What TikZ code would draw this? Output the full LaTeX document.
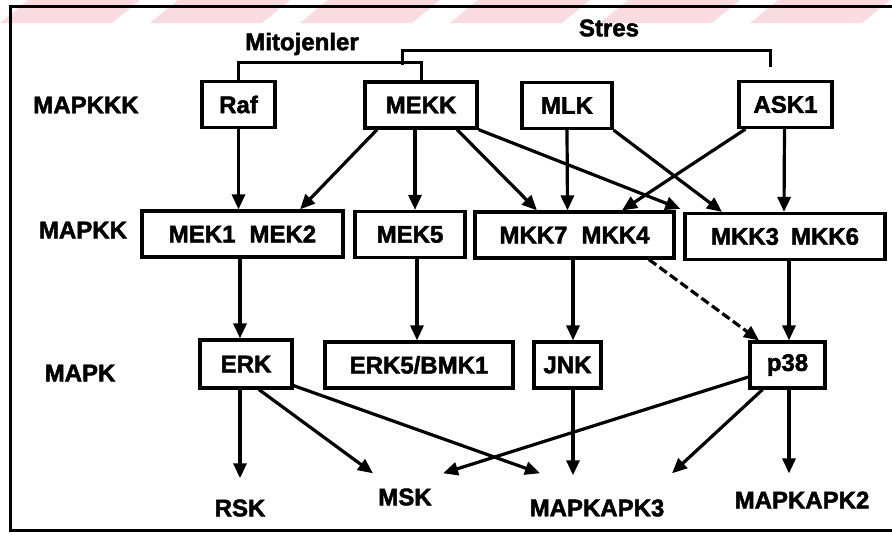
\documentclass[tikz,border=0pt]{standalone}
\usepackage{fontspec}
\setmainfont{Liberation Sans}
\newfontfamily\hvy{Liberation Sans}[UprightFont=*-Bold, UprightFeatures={FakeBold=2}]
\usetikzlibrary{arrows.meta}
\definecolor{wm}{HTML}{FADCE0}
\begin{document}
\begin{tikzpicture}[x=1pt,y=-1pt,
  box/.style={draw, line width=3.2pt, inner sep=0pt, font=\fontsize{24}{26}\hvy, minimum height=46pt},
  lbl/.style={inner sep=0pt, font=\fontsize{24}{26}\hvy},
  arr/.style={line width=3.2pt, -{Triangle[length=15pt,width=13pt]}},
  brk/.style={line width=3pt},
  frm/.style={line width=3pt}]
\useasboundingbox (0,0) rectangle (892,536);
\fill[white] (0,0) rectangle (892,536);
% watermark band
\foreach \i in {-1,...,6}{
  \fill[wm] (\i*150,23) -- ++(112,0) -- ++(28,-23) -- ++(-112,0) -- cycle;
}
% frame
\draw[frm] (892,6) -- (10,6) -- (10,530) -- (892,530);

% level labels
\node[lbl] (lKKK) at (86,105) {MAPKKK};
\node[lbl] (lKK) at (83,230) {MAPKK};
\node[lbl] (lK) at (80,373) {MAPK};
\node[lbl] (mito) at (302,44) {Mitojenler};
\node[lbl] (stres) at (609,28) {Stres};

% MAPKKK
\node[box, minimum width=73pt] (Raf) at (238.5,104.5) {Raf};
\node[box, minimum width=112pt] (MEKK) at (421,105) {MEKK};
\node[box, minimum width=90pt] (MLK) at (567,105.5) {MLK};
\node[box, minimum width=93pt] (ASK1) at (785.5,104.5) {ASK1};

% MAPKK
\node[box, minimum width=201pt] (MEK12) at (242.5,234) {MEK1\hspace{14pt}MEK2\hspace{32pt}};
\node[box, minimum width=110pt] (MEK5) at (410,234.5) {MEK5\hspace{18pt}};
\node[box, minimum width=199pt] (MKK74) at (574.5,235) {MKK7\hspace{14pt}MKK4\hspace{23pt}};
\node[box, minimum width=200pt] (MKK36) at (785,236.5) {MKK3\hspace{12pt}MKK6\hspace{9pt}};

% MAPK
\node[box, minimum width=92pt, minimum height=48pt] (ERK) at (246,364) {ERK};
\node[box, minimum width=188pt] (ERK5) at (419,365) {ERK5/BMK1};
\node[box, minimum width=67pt] (JNK) at (567.5,365) {JNK};
\node[box, minimum width=75pt] (p38) at (787.5,365) {p38};

% substrates
\node[lbl] (RSK) at (240,508) {RSK};
\node[lbl] (MSK) at (405,497) {MSK};
\node[lbl] (MK3) at (597,508) {MAPKAPK3};
\node[lbl] (MK2) at (802,500) {MAPKAPK2};

% brackets
\draw[brk] (Raf.north) -- ++(0,-17) -| (MEKK.north);
\coordinate (sL) at (402,65);
\coordinate (sR) at (770,67);
\draw[brk] (sL) -- ++(0,-15) -| (sR);

% MAPKKK -> MAPKK
\draw[arr] (Raf.south) -- (Raf.south |- MEK12.north);
\draw[arr] ([xshift=-44pt]MEKK.south) -- ([xshift=57.5pt]MEK12.north);
\draw[arr] ([xshift=-6pt]MEKK.south) -- ([xshift=5pt]MEK5.north);
\draw[arr] ([xshift=36pt]MEKK.south) -- ([xshift=-37.5pt]MKK74.north);
\draw[arr] (MEKK.south east) -- ([xshift=-3pt,yshift=3pt]MKK36.north west);
\draw[arr] (MLK.south) -- ([xshift=-7pt]MKK74.north);
\draw[arr] (MLK.south east) -- ([xshift=-63pt]MKK36.north);
\draw[arr] ([xshift=-40pt]ASK1.south) -- ([xshift=47.5pt]MKK74.north);
\draw[arr] ([xshift=-1pt]ASK1.south) -- ([xshift=-1pt]MKK36.north);

% MAPKK -> MAPK
\draw[arr] ([xshift=-2.5pt]MEK12.south) -- ([xshift=-6pt]ERK.north);
\draw[arr] ([xshift=7pt]MEK5.south) -- ([xshift=-2pt]ERK5.north);
\draw[arr] ([xshift=-1.5pt]MKK74.south) -- ([xshift=5.5pt]JNK.north);
\draw[arr, dash pattern=on 9pt off 4pt] ([xshift=74.5pt]MKK74.south) -- ([xshift=-28.5pt]p38.north);
\draw[arr] ([xshift=4pt]MKK36.south) -- ([xshift=1.5pt]p38.north);

% MAPK -> substrates
\draw[arr] ([xshift=-6pt]ERK.south) -- ([yshift=21pt]RSK.north);
\draw[arr] ([xshift=13pt]ERK.south) -- ([xshift=-32pt,yshift=15pt]MSK.north);
\draw[arr] ([yshift=4pt]ERK.south east) -- ([xshift=-57pt,yshift=26pt]MK3.north);
\draw[arr] ([xshift=5.5pt]JNK.south) -- ([xshift=-24pt,yshift=24pt]MK3.north);
\draw[arr] ([yshift=-12pt]p38.west) -- ([xshift=38pt,yshift=15pt]MSK.north);
\draw[arr] ([xshift=-25pt]p38.south) -- ([xshift=75pt,yshift=26pt]MK3.north);
\draw[arr] ([xshift=1.5pt]p38.south) -- ([xshift=-13pt,yshift=18pt]MK2.north);
\end{tikzpicture}
\end{document}
